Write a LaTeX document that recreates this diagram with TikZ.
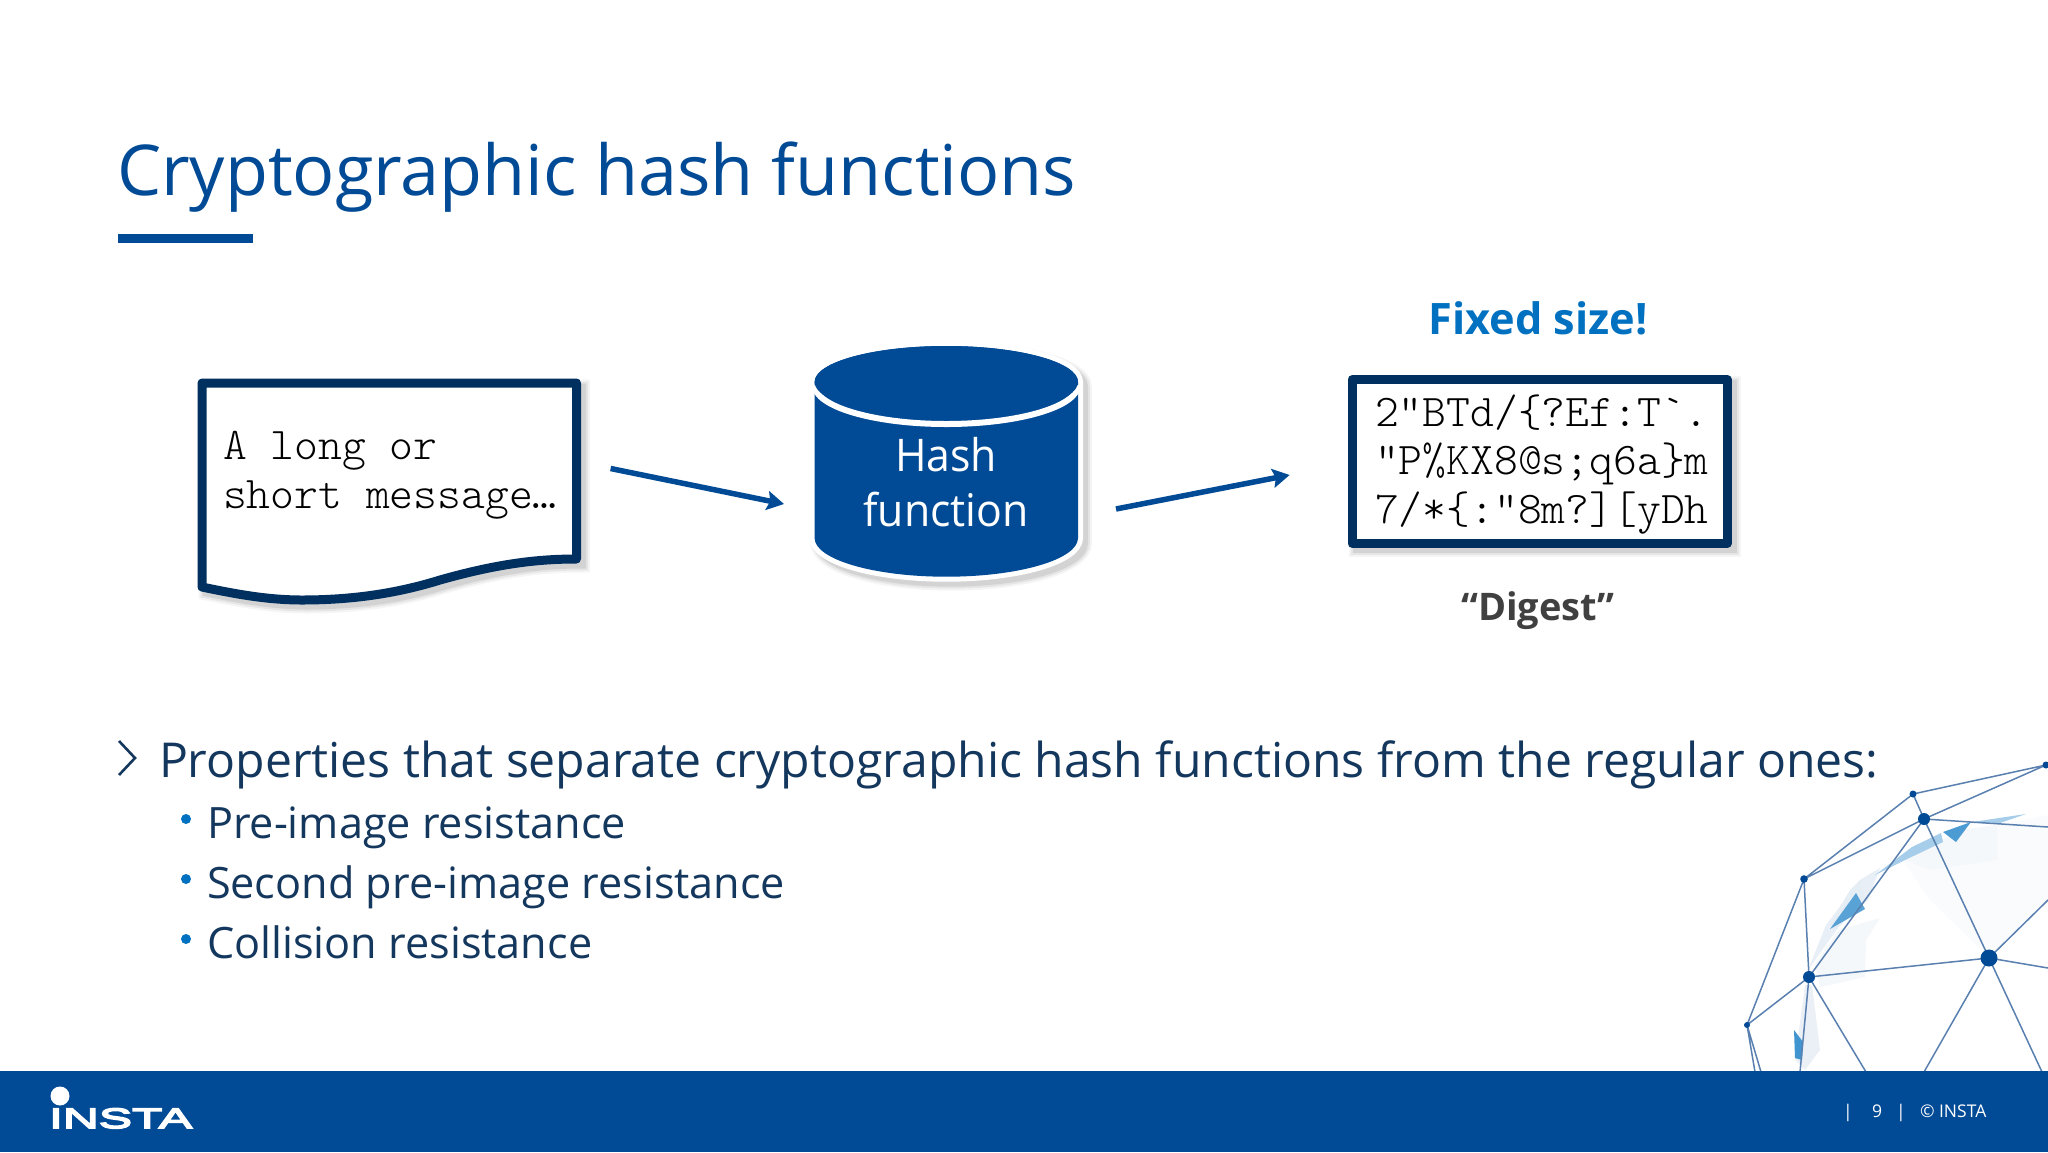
\documentclass[tikz,border=0pt]{standalone}
\usepackage{fontspec}
\usetikzlibrary{arrows.meta}
\setmainfont{Open Sans}
\setmonofont{Latin Modern Mono Light}
\newfontfamily\hashfont[FakeStretch=.95]{Open Sans}
\newfontfamily\logofont[FakeBold=6,FakeStretch=1.78]{Liberation Sans}
\definecolor{instablue}{HTML}{004A96}
\definecolor{navy}{HTML}{00305F}
\definecolor{inktext}{HTML}{14375E}
\definecolor{fixedblue}{HTML}{0070C0}
\definecolor{digestgray}{HTML}{404040}
\definecolor{meshline}{HTML}{5A80B0}
\tikzset{
  lbl/.style={inner sep=0pt,outer sep=0pt,anchor=base west},
  softshadow/.style={
    preaction={draw=black,draw opacity=.04,line width=#1+8pt,fill opacity=0,transform canvas={shift={(5pt,-5pt)}}},
    preaction={draw=black,draw opacity=.06,line width=#1+4pt,fill opacity=0,transform canvas={shift={(5pt,-5pt)}}},
    preaction={draw=black,draw opacity=.08,line width=#1,fill opacity=0,transform canvas={shift={(5pt,-5pt)}}}},
  framebox/.style={draw=navy,line width=9pt,line join=round,fill=white},
  flowarrow/.style={draw=instablue,line width=5.5pt,-{Stealth[length=17pt,width=19pt,inset=3pt]}},
  mesh/.style={draw=meshline,line width=1.5pt},
  vertex/.style={fill=instablue},
  monotext/.style={inner sep=0pt,outer sep=0pt,align=left,text=black,font=\ttfamily\fontsize{45.4}{48.7}\selectfont},
}
\begin{document}
\begin{tikzpicture}[x=1pt,y=-1pt]
\useasboundingbox (0,0) rectangle (2048,1152);
\fill[white] (0,0) rectangle (2048,1152);

% faint globe facets
\begin{scope}
\fill[instablue!2] (1903,860) -- (1997,825) -- (2048,815) -- (2048,900) -- (1989,958) -- (1930,900) -- cycle;
\fill[instablue!4] (1815,965) -- (1838,930) -- (1880,918) -- (1866,940) -- (1865,977) -- (1820,987) -- cycle;
\fill[instablue!9] (1808,970) -- (1826,925) -- (1860,880) -- (1880,868) -- (1868,900) -- (1840,925) -- cycle;
\fill[instablue!8] (1795,1060) -- (1805,985) -- (1812,985) -- (1820,1050) -- (1805,1070) -- cycle;
\fill[instablue!4] (1905,860) -- (1960,830) -- (1997,825) -- (1997,860) -- (1930,870) -- cycle;
\fill[fixedblue!35] (1875,875) -- (1912,847) -- (1941,833) -- (1943,842) -- (1905,860) -- cycle;
\fill[instablue!10] (1830,925) -- (1850,890) -- (1860,880) -- (1865,900) -- (1835,930) -- cycle;
\fill[fixedblue!65] (1830,929) -- (1856,893) -- (1865,909) -- cycle;
\fill[fixedblue!70] (1943,832) -- (1971,822) -- (1956,842) -- cycle;
\fill[fixedblue!35] (1972,822) -- (2026,814) -- (2000,823) -- cycle;
\fill[fixedblue!75] (1794,1030) -- (1803,1042) -- (1802,1060) -- (1795,1058) -- cycle;
\end{scope}

% globe mesh
\coordinate (ga) at (2046,765);
\coordinate (gb) at (1913,794);
\coordinate (gc) at (1924,819);
\coordinate (gd) at (1804,879);
\coordinate (ge) at (1989,958);
\coordinate (gf) at (1809,977);
\coordinate (gg) at (1747,1025);
\coordinate (x1) at (2048,827);
\coordinate (x2) at (2048,900);
\coordinate (x3) at (2048,968);
\coordinate (y1) at (1800,1072);
\coordinate (y2) at (1866,1072);
\coordinate (y3) at (1924,1072);
\coordinate (y4) at (2042,1072);
\coordinate (y5) at (1755,1072);
\coordinate (y6) at (1761,1072);
\draw[mesh] (gb)--(ga) (gc)--(ga) (gd)--(gb) (gd)--(gc) (gb)--(gc) (gc)--(ge)
  (gc)--(x1) (gf)--(gc) (gf)--(gd) (gd)--(gg) (gf)--(gg) (gf)--(ge)
  (ge)--(x2) (ge)--(x3) (gf)--(y1) (gf)--(y2) (ge)--(y3) (ge)--(y4) (gg)--(y5) (gg)--(y6);
\fill[vertex] (ga) circle (3.5) (gb) circle (3.5) (gc) circle (6) (gd) circle (3.8)
  (ge) circle (8.5) (gf) circle (6) (gg) circle (3);

% footer
\fill[instablue] (0,1071) rectangle (2048,1152);
\fill[white] (60,1096) circle (9.5);
\node[lbl,text=white,font=\logofont\fontsize{28}{28}\selectfont] (logo) at (49,1128) {INSTA};
\node[lbl,text=white,font=\fontsize{17.5}{20}\selectfont] (pgL) at (1843,1117) {|};
\node[lbl,text=white,font=\fontsize{17.5}{20}\selectfont] (pgN) at (1872,1117) {9};
\node[lbl,text=white,font=\fontsize{17.5}{20}\selectfont] (pgR) at (1896,1117) {|};
\node[lbl,text=white,font=\fontsize{17.5}{20}\selectfont] (copy) at (1920,1117) {© INSTA};

% title
\node[lbl,text=instablue,font=\fontsize{70.1}{80}\selectfont] (title) at (117,195) {Cryptographic hash functions};
\fill[instablue] (118,234) rectangle (253,243);

% message document
\draw[framebox,softshadow=9pt] (202,383) -- (576.5,383) -- (576.5,559)
  .. controls (540,559) and (500,563) .. (440,580)
  .. controls (395,594) and (350,600) .. (302,600)
  .. controls (270,600) and (240,595) .. (202,587) -- cycle;
\node[monotext,anchor=west] (msg) at (223,475) {A long or\\short message…};

% hash cylinder
\draw[draw=white,line width=10pt,fill=instablue,softshadow=10pt]
  (814.6,382) -- (814.6,538) arc[x radius=131.7,y radius=38.7,start angle=180,end angle=0] -- (1078,382)
  arc[x radius=131.7,y radius=36,start angle=0,end angle=-180] -- cycle;
\fill[instablue] (814.6,382) -- (814.6,538) arc[x radius=131.7,y radius=38.7,start angle=180,end angle=0] -- (1078,382)
  arc[x radius=131.7,y radius=36,start angle=0,end angle=-180] -- cycle;
\draw[white,line width=6pt] (814.6,385) arc[x radius=131.7,y radius=39,start angle=180,end angle=0];
\fill[instablue] (946.3,382) ellipse[x radius=131.7,y radius=36];
\node[inner sep=0pt,outer sep=0pt,align=center,text=white,font=\hashfont\fontsize{45}{54.7}\selectfont] (hash) at (946,482) {Hash\\function};

% digest box
\draw[framebox,softshadow=9pt] (1352,379.5) rectangle (1727,543.5);
\node[monotext,anchor=west] (dig) at (1375,464.5) {2"BTd/\{?Ef:T`.\\"P\%KX8@s;q6a\}m\\7/*\{:"8m?][yDh};
\node[lbl,anchor=base,text=fixedblue,font=\bfseries\fontsize{43.3}{50}\selectfont] (fixed) at (1538,334) {Fixed size!};
\node[lbl,anchor=base,text=digestgray,font=\bfseries\fontsize{38}{50}\selectfont] (digest) at (1538,620) {“Digest”};

% arrows
\coordinate (a1s) at (610.6,468.5);
\coordinate (a1e) at (784,504);
\coordinate (a2s) at (1116,509);
\coordinate (a2e) at (1289.6,475);
\draw[flowarrow] (a1s) -- (a1e);
\draw[flowarrow] (a2s) -- (a2e);

% bullets
\draw[inktext,line width=2.6pt] (119,741) -- (135,758) -- (119,775);
\node[lbl,text=inktext,font=\fontsize{48.1}{56}\selectfont] (p0) at (159,777) {Properties that separate cryptographic hash functions from the regular ones:};
\fill[fixedblue] (186,819) circle (5);
\node[lbl,text=inktext,font=\fontsize{43.2}{50}\selectfont] (p1) at (207,838) {Pre-image resistance};
\fill[fixedblue] (186,879) circle (5);
\node[lbl,text=inktext,font=\fontsize{43.2}{50}\selectfont] (p2) at (207,898) {Second pre-image resistance};
\fill[fixedblue] (186,939) circle (5);
\node[lbl,text=inktext,font=\fontsize{43.2}{50}\selectfont] (p3) at (207,958) {Collision resistance};
\end{tikzpicture}
\end{document}
